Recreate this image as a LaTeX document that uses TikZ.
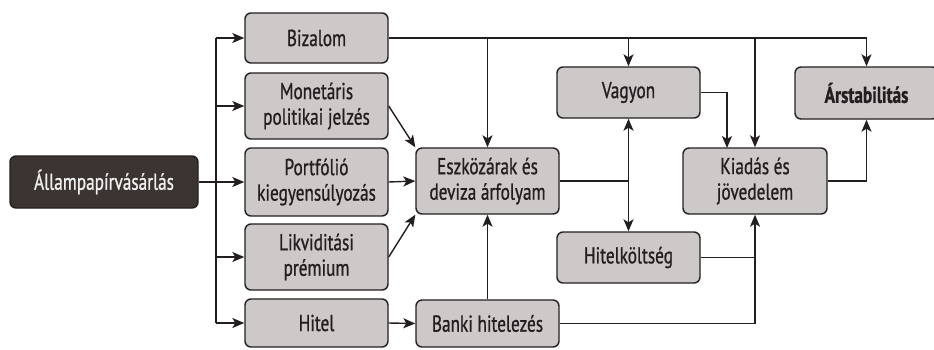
\documentclass[tikz,border=0pt]{standalone}
\usepackage{fontspec}
\setmainfont{PT Sans}[FakeStretch=0.75,FakeBold=0.9]
\usetikzlibrary{arrows.meta}
\definecolor{boxfill}{HTML}{CDC9C8}
\definecolor{darkfill}{HTML}{3B3431}
\definecolor{ink}{HTML}{231F20}
\tikzset{
  tip/.tip={Stealth[length=12pt,width=10pt,inset=3pt]},
  box/.style={draw=ink, line width=1.4pt, fill=boxfill, rounded corners=6pt,
    inner sep=0pt, align=center, text=ink,
    font=\fontsize{23}{25.5}\selectfont},
  srcbox/.style={box, fill=darkfill, text=white!94!black},
  link/.style={draw=ink, line width=1.4pt},
  arr/.style={link, -tip},
  dbl/.style={link, tip-tip}
}
\begin{document}
\begin{tikzpicture}[x=1pt,y=-1pt]
\useasboundingbox (0,0) rectangle (934,349);

% source
\node[srcbox, minimum width=188pt, minimum height=52pt] (src) at (104,182) {Állampapírvásárlás};

% channels
\node[box, minimum width=143pt, minimum height=50pt] (biz) at (316.5,38) {Bizalom};
\node[box, minimum width=143pt, minimum height=66pt] (mon) at (316.5,106) {Monetáris\\politikai jelzés};
\node[box, minimum width=143pt, minimum height=68pt] (port) at (316.5,182) {Portfólió\\kiegyensúlyozás};
\node[box, minimum width=143pt, minimum height=66pt] (lik) at (316.5,257) {Likviditási\\prémium};
\node[box, minimum width=143pt, minimum height=48pt] (hit) at (316.5,323) {Hitel};

% intermediate effects
\node[box, minimum width=143pt, minimum height=66pt] (esz) at (487.5,181) {Eszközárak és\\deviza árfolyam};
\node[box, minimum width=143pt, minimum height=47pt] (bank) at (487.5,323.5) {Banki hitelezés};
\node[box, minimum width=143pt, minimum height=51pt] (vag) at (628.5,92.5) {Vagyon};
\node[box, minimum width=143pt, minimum height=51pt] (hk) at (628.5,257.5) {Hitelköltség};
\node[box, minimum width=144pt, minimum height=66pt] (kia) at (755,181) {Kiadás és\\jövedelem};
\node[box, minimum width=143pt, minimum height=52pt] (ars) at (866.5,93) {\bfseries Árstabilitás};

% trunk from the source to every channel
\coordinate (tr) at (216,182);
\draw[link] (src.east) -- (tr);
\draw[link] (216,38) -- (216,323);
\draw[arr] (216,38) -- (biz.west);
\draw[arr] (216,106) -- (mon.west);
\draw[arr] (tr) -- (port.west);
\draw[arr] (216,257) -- (lik.west);
\draw[arr] (216,323) -- (hit.west);

% confidence line along the top
\coordinate (topend) at (866.5,38);
\draw[link] (biz.east) -- (topend);
\draw[arr] (487.5,38) -- (esz.north);
\draw[arr] (628.5,38) -- (vag.north);
\draw[arr] (755,38) -- (kia.north);
\draw[arr] (topend) -- (ars.north);

% channels into asset prices and lending
\draw[arr] (mon.east) -- (esz.north west);
\draw[arr] (port.east) -- (esz.west);
\draw[arr] (lik.east) -- (esz.south west);
\draw[arr] (hit.east) -- (bank.west);
\draw[arr] (bank.north) -- (esz.south);

% asset prices to wealth and cost of credit
\coordinate (ej) at (628.5,181);
\draw[link] (esz.east) -- (ej);
\draw[dbl] (vag.south) -- (hk.north);

% into spending and income
\draw[arr] (vag.east) -| (727,148);
\coordinate (kj) at (755,257.5);
\draw[link] (hk.east) -- (kj);
\draw[arr] (bank.east) -| (kia.south);

% spending to price stability
\draw[arr] (kia.east) -| (ars.south);
\end{tikzpicture}
\end{document}
